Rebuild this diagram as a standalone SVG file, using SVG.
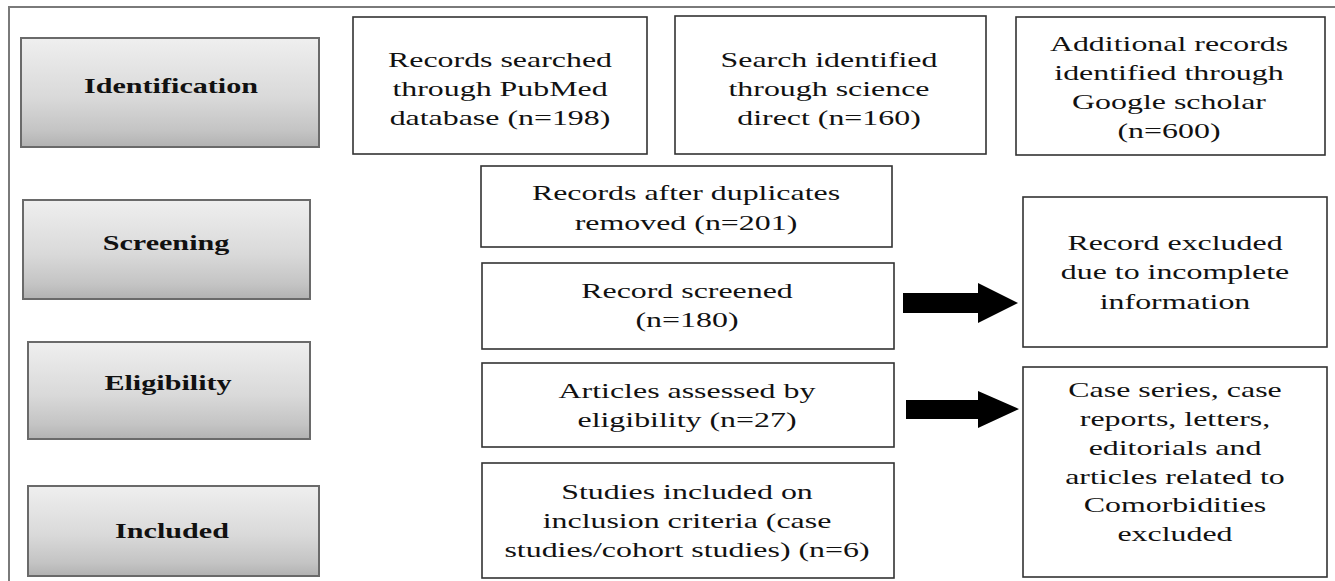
<svg xmlns="http://www.w3.org/2000/svg" width="1335" height="581" viewBox="0 0 1335 581">
<defs>
<linearGradient id="stageGrad" x1="0" y1="0" x2="0" y2="1">
<stop offset="0" stop-color="#efefef"/>
<stop offset="0.55" stop-color="#d9d9d9"/>
<stop offset="0.85" stop-color="#c4c4c4"/>
<stop offset="1" stop-color="#b2b2b2"/>
</linearGradient>
<style>
.stage{fill:url(#stageGrad);stroke:#6a6a6a;stroke-width:2}
.box{fill:#ffffff;stroke:#333333;stroke-width:1.6}
.lbl{font-family:"Liberation Serif","Times New Roman",serif;font-size:22px;font-weight:bold;fill:#111;text-anchor:middle}
.txt{font-family:"Liberation Serif","Times New Roman",serif;font-size:22px;fill:#111;text-anchor:middle}
.frame{fill:none;stroke:#7a7a7a;stroke-width:2}
.arrow{fill:#000}
</style>
</defs>
<rect width="1335" height="581" fill="#ffffff"/>
<path class="frame" d="M9,581 L9,7 L1335,7"/>

<g id="stage-identification">
<rect class="stage" x="21" y="38" width="298" height="109"/>
<text class="lbl" transform="translate(171 0) scale(1.37 1)" x="0" y="93">Identification</text>
</g>
<g id="stage-screening">
<rect class="stage" x="23" y="200" width="287" height="99"/>
<text class="lbl" transform="translate(166 0) scale(1.37 1)" x="0" y="250">Screening</text>
</g>
<g id="stage-eligibility">
<rect class="stage" x="28" y="342" width="282" height="97"/>
<text class="lbl" transform="translate(168 0) scale(1.37 1)" x="0" y="390">Eligibility</text>
</g>
<g id="stage-included">
<rect class="stage" x="28" y="486" width="291" height="90"/>
<text class="lbl" transform="translate(172 0) scale(1.37 1)" x="0" y="538">Included</text>
</g>

<g id="pubmed">
<rect class="box" x="353" y="17" width="294" height="137"/>
<text class="txt" transform="translate(500 0) scale(1.45 1)"><tspan x="0" y="67">Records searched</tspan><tspan x="0" y="96">through PubMed</tspan><tspan x="0" y="125">database (n=198)</tspan></text>
</g>
<g id="sciencedirect">
<rect class="box" x="675" y="16" width="311" height="138"/>
<text class="txt" transform="translate(829 0) scale(1.45 1)"><tspan x="0" y="67">Search identified</tspan><tspan x="0" y="96">through science</tspan><tspan x="0" y="125">direct (n=160)</tspan></text>
</g>
<g id="scholar">
<rect class="box" x="1016" y="17" width="309" height="138"/>
<text class="txt" transform="translate(1169 0) scale(1.45 1)"><tspan x="0" y="51">Additional records</tspan><tspan x="0" y="80">identified through</tspan><tspan x="0" y="109">Google scholar</tspan><tspan x="0" y="138">(n=600)</tspan></text>
</g>
<g id="duplicates">
<rect class="box" x="481" y="166" width="411" height="81"/>
<text class="txt" transform="translate(686 0) scale(1.45 1)"><tspan x="0" y="200">Records after duplicates</tspan><tspan x="0" y="230">removed (n=201)</tspan></text>
</g>
<g id="screened">
<rect class="box" x="482" y="263" width="412" height="86"/>
<text class="txt" transform="translate(687 0) scale(1.45 1)"><tspan x="0" y="298">Record screened</tspan><tspan x="0" y="327">(n=180)</tspan></text>
</g>
<g id="assessed">
<rect class="box" x="482" y="363" width="412" height="84"/>
<text class="txt" transform="translate(687 0) scale(1.45 1)"><tspan x="0" y="398">Articles assessed by</tspan><tspan x="0" y="427">eligibility (n=27)</tspan></text>
</g>
<g id="included-studies">
<rect class="box" x="482" y="463" width="412" height="115"/>
<text class="txt" transform="translate(687 0) scale(1.45 1)"><tspan x="0" y="499">Studies included on</tspan><tspan x="0" y="528">inclusion criteria (case</tspan><tspan x="0" y="557">studies/cohort studies) (n=6)</tspan></text>
</g>
<g id="excluded-incomplete">
<rect class="box" x="1023" y="197" width="304" height="150"/>
<text class="txt" transform="translate(1175 0) scale(1.45 1)"><tspan x="0" y="250">Record excluded</tspan><tspan x="0" y="279">due to incomplete</tspan><tspan x="0" y="309">information</tspan></text>
</g>
<g id="excluded-types">
<rect class="box" x="1023" y="367" width="304" height="210"/>
<text class="txt" transform="translate(1175 0) scale(1.45 1)"><tspan x="0" y="397">Case series, case</tspan><tspan x="0" y="426">reports, letters,</tspan><tspan x="0" y="455">editorials and</tspan><tspan x="0" y="484">articles related to</tspan><tspan x="0" y="512">Comorbidities</tspan><tspan x="0" y="541">excluded</tspan></text>
</g>

<g id="connectors">
<polygon class="arrow" points="903,293 978,293 978,283 1018,303 978,323 978,313 903,313"/>
<polygon class="arrow" points="906,400 978,400 978,391 1019,409 978,428 978,419 906,419"/>
</g>
</svg>
